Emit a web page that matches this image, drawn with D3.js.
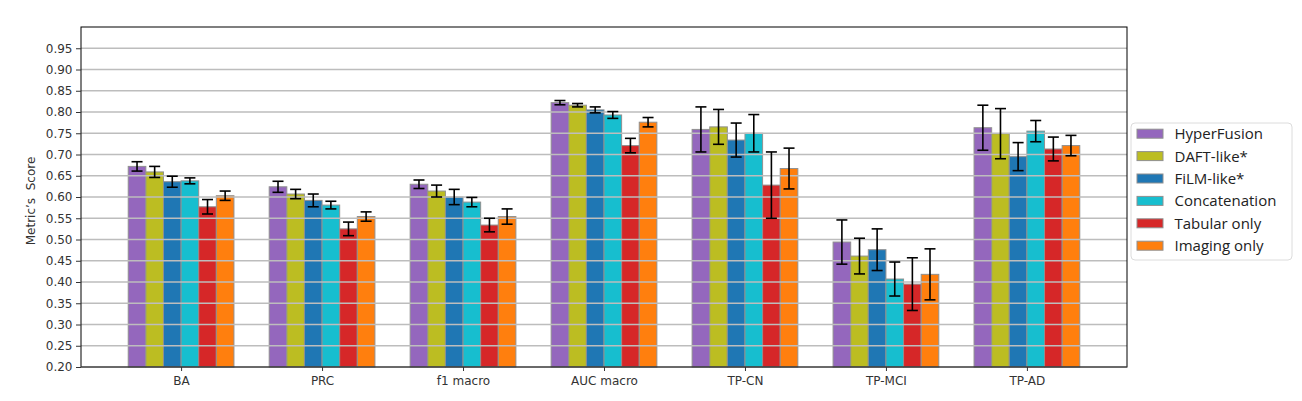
<!DOCTYPE html>
<html><head><meta charset="utf-8">
<script src="https://cdn.jsdelivr.net/npm/d3@7"></script>
<style>body{margin:0;background:#fff;} svg{display:block;}</style>
</head><body>
<svg id="c" width="1302" height="401"></svg>
<script>
const categories = ["BA","PRC","f1 macro","AUC macro","TP-CN","TP-MCI","TP-AD"];
const seriesNames = ["HyperFusion","DAFT-like*","FiLM-like*","Concatenation","Tabular only","Imaging only"];
const seriesColors = ["#9467bd","#bcbd22","#1f77b4","#17becf","#d62728","#ff7f0e"];
const hyperFusion   = [0.672,0.624,0.630,0.822,0.759,0.494,0.763];
const daftLike      = [0.659,0.607,0.614,0.816,0.765,0.461,0.749];
const filmLike      = [0.636,0.592,0.600,0.805,0.734,0.476,0.695];
const concatenation = [0.638,0.581,0.588,0.793,0.750,0.407,0.755];
const tabularOnly   = [0.577,0.525,0.534,0.721,0.628,0.395,0.713];
const imagingOnly   = [0.603,0.554,0.554,0.776,0.667,0.418,0.721];
const hyperFusionErr   = [0.011,0.013,0.010,0.005,0.053,0.052,0.053];
const daftLikeErr      = [0.013,0.011,0.014,0.004,0.041,0.042,0.059];
const filmLikeErr      = [0.013,0.015,0.018,0.007,0.040,0.049,0.033];
const concatenationErr = [0.007,0.009,0.011,0.008,0.044,0.040,0.025];
const tabularOnlyErr   = [0.017,0.016,0.016,0.017,0.078,0.062,0.028];
const imagingOnlyErr   = [0.011,0.011,0.018,0.011,0.048,0.060,0.024];
const yTicks = [0.20,0.25,0.30,0.35,0.40,0.45,0.50,0.55,0.60,0.65,0.70,0.75,0.80,0.85,0.90,0.95];

const values = [hyperFusion,daftLike,filmLike,concatenation,tabularOnly,imagingOnly];
const errs = [hyperFusionErr,daftLikeErr,filmLikeErr,concatenationErr,tabularOnlyErr,imagingOnlyErr];

const svg = d3.select("#c");
const L = 81, R = 1127, T = 27, B = 367;
const x = d3.scaleLinear().domain([-0.71, 6.71]).range([L, R]);
const y = d3.scaleLinear().domain([0.2, 1.0]).range([B, T]);
const bw = 0.125;

// bars
const data = [];
values.forEach((s, si) => s.forEach((v, ci) => data.push({si, ci, v, e: errs[si][ci]})));
const barX = d => x(d.ci - 0.375 + d.si * bw);
svg.append("g").selectAll("rect").data(data).join("rect")
  .attr("x", barX)
  .attr("width", x(bw) - x(0))
  .attr("y", d => y(d.v))
  .attr("height", d => y(0.2) - y(d.v))
  .attr("fill", d => seriesColors[d.si])
  .attr("stroke", "#909090").attr("stroke-width", 1);

// grid (over bars)
svg.append("g").selectAll("line").data(yTicks.slice(1)).join("line")
  .attr("x1", L).attr("x2", R)
  .attr("y1", d => y(d)).attr("y2", d => y(d))
  .attr("stroke", "#bdbdbd").attr("stroke-width", 1.3);

// error bars
const eg = svg.append("g").attr("stroke", "#000").attr("stroke-width", 1.6);
const cx = d => x(d.ci - 0.375 + (d.si + 0.5) * bw);
eg.selectAll("line.v").data(data).join("line").attr("class","v")
  .attr("x1", cx).attr("x2", cx)
  .attr("y1", d => y(d.v + d.e)).attr("y2", d => y(d.v - d.e));
eg.selectAll("line.t").data(data).join("line").attr("class","t")
  .attr("x1", d => cx(d) - 5.5).attr("x2", d => cx(d) + 5.5)
  .attr("y1", d => y(d.v + d.e)).attr("y2", d => y(d.v + d.e));
eg.selectAll("line.b").data(data).join("line").attr("class","b")
  .attr("x1", d => cx(d) - 5.5).attr("x2", d => cx(d) + 5.5)
  .attr("y1", d => y(d.v - d.e)).attr("y2", d => y(d.v - d.e));

// frame
svg.append("rect").attr("x", L).attr("y", T).attr("width", R - L).attr("height", B - T)
  .attr("fill", "none").attr("stroke", "#000").attr("stroke-width", 1);
svg.append("line").attr("x1", L).attr("x2", R).attr("y1", B).attr("y2", B)
  .attr("stroke", "#555").attr("stroke-width", 1.2);

// y axis
const ya = svg.append("g").attr("transform", `translate(${L},0)`)
  .call(d3.axisLeft(y).tickValues(yTicks).tickFormat(d3.format(".2f")).tickSize(5).tickPadding(3.5));
ya.select(".domain").remove();
ya.selectAll("text").attr("font-family", "DejaVu Sans").attr("font-size", 12).attr("fill", "#333");
ya.selectAll("line").attr("stroke", "#333");

// x axis
const xa = svg.append("g").attr("transform", `translate(0,${B})`)
  .call(d3.axisBottom(x).tickValues(d3.range(categories.length)).tickFormat(i => categories[i]).tickSize(4).tickPadding(5.5));
xa.select(".domain").remove();
xa.selectAll("text").attr("font-family", "DejaVu Sans").attr("font-size", 12).attr("fill", "#333");
xa.selectAll("line").attr("stroke", "#333");

// y label
svg.append("text").attr("transform", `translate(35,201) rotate(-90)`)
  .attr("text-anchor", "middle").attr("font-family", "DejaVu Sans").attr("font-size", 12)
  .attr("fill", "#333").style("white-space","pre").text("Metric\u2019s  Score");

// legend
const lg = svg.append("g").attr("transform", "translate(1131,123)");
lg.append("rect").attr("x", 0).attr("y", 0).attr("width", 161).attr("height", 137)
  .attr("rx", 4).attr("fill", "#fff").attr("stroke", "#dcdcdc");
const items = lg.selectAll("g.it").data(seriesNames).join("g").attr("class","it")
  .attr("transform", (d, i) => `translate(0,${10.7 + i * 22.4})`);
items.append("rect").attr("x", 6).attr("y", -4.5).attr("width", 26).attr("height", 9)
  .attr("fill", (d, i) => seriesColors[i]).attr("stroke", "#909090");
items.append("text").attr("x", 43.5).attr("y", 5.5).attr("font-family", "Open Sans")
  .attr("font-size", 15).attr("fill", "#222").text(d => d);
</script>
</body></html>
